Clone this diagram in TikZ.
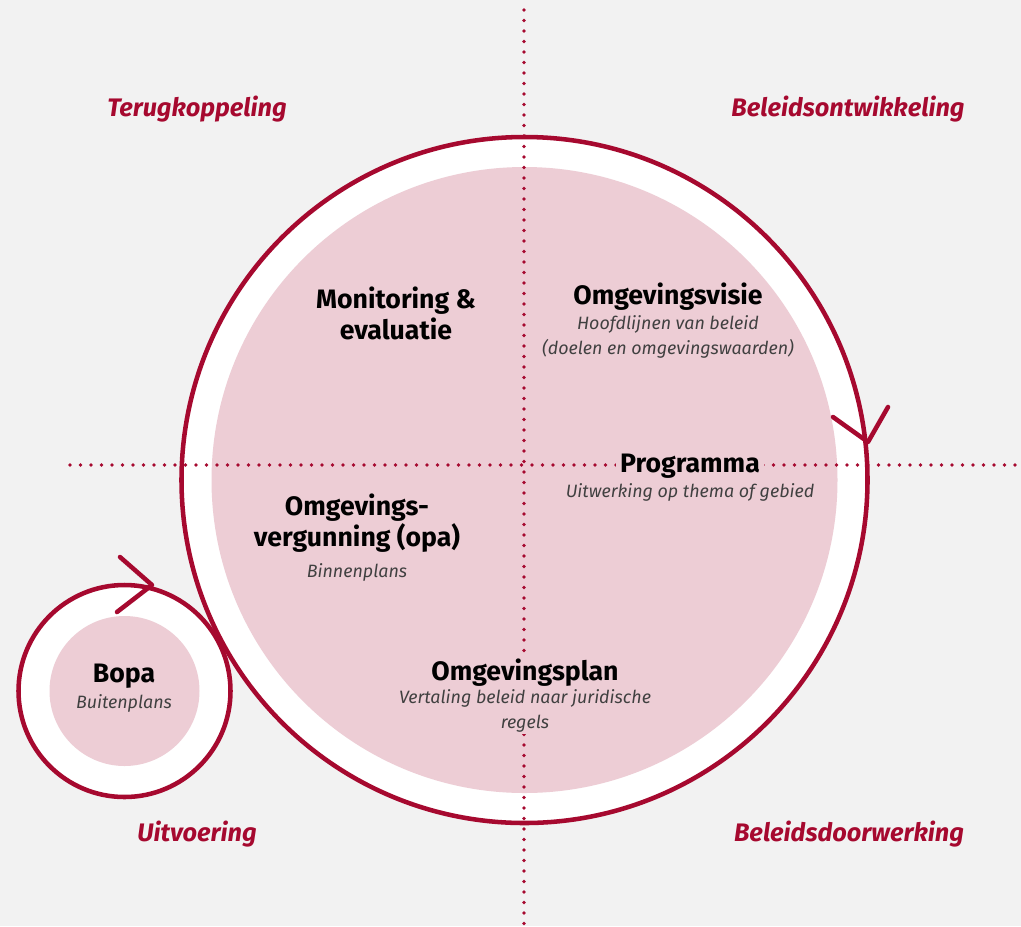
\documentclass[tikz,border=0pt]{standalone}
\usepackage{fontspec}
\setmainfont{Fira Sans}
\usetikzlibrary{positioning}

\definecolor{wine}{HTML}{A6092F}
\definecolor{blush}{HTML}{EDCDD5}
\definecolor{paper}{HTML}{F2F2F2}

\tikzset{
  ring/.style={draw=wine, line width=3.4pt, line cap=round, line join=round},
  dots/.style={draw=wine, line width=2.8pt, line cap=round, dash pattern=on 0pt off 7.875pt},
  phase/.style={text=wine, font=\bfseries\itshape\fontsize{19}{22}\selectfont},
  title/.style={font=\bfseries\fontsize{20}{23.25}\selectfont, align=center, inner sep=3pt},
  sub/.style={font=\itshape\fontsize{13.4}{18.75}\selectfont, text=black!75, align=center, inner sep=1pt},
  cover/.style={fill=blush}
}

\begin{document}
\begin{tikzpicture}[x=0.75pt,y=-0.75pt]

      \fill[paper] (0,0) rectangle (1021,926);
      \useasboundingbox (0,0) rectangle (1021,926);

      % the two cycles
      \coordinate (big)   at (524.5,480);
      \coordinate (small) at (124.5,691);
      \fill[white] (small) circle (79.5pt);
      \fill[blush] (small) circle (56.25pt);
      \fill[white] (big) circle (257.25pt);
      \fill[blush] (big) circle (234.75pt);
      \draw[ring] (small) circle (79.5pt);
      \draw[ring] (big) circle (257.25pt);
      \draw[ring] (833,417) -- (868,442) -- (888,407);
      \draw[ring] (120,557) -- (152,585) -- (117,612);

      % quadrants
      \coordinate (top)    at (524,10);
      \coordinate (bottom) at (524,926);
      \coordinate (left)   at (70,465);
      \coordinate (right)  at (1021,465);
      \draw[dots] (top) -- (bottom);
      \draw[dots] (left) -- (right);

      \begin{scope}[every node/.style={phase}]
        \node (fb)   at (197,109) {Terugkoppeling};
        \node (dev)  at (848,109) {Beleidsontwikkeling};
        \node (exec) at (197,834) {Uitvoering};
        \node (flow) at (849,834) {Beleidsdoorwerking};
      \end{scope}

      \node[title] (mon)    at (396,313) {Monitoring \&\\evaluatie};
      \node[title] (visie)  at (668,297) {Omgevingsvisie};
      \node[sub]   (visie2) at (668,337) {Hoofdlijnen van beleid\\(doelen en omgevingswaarden)};
      \node[title, cover] (prog)  at (690,466) {Programma};
      \node[sub]   (prog2)  at (690,492) {Uitwerking op thema of gebied};
      \node[title] (opa)    at (357,523) {Omgevings-\\vergunning (opa)};
      \node[sub]   (opa2)   at (357,572) {Binnenplans};
      \node[title, cover] (plan)  at (525,673) {Omgevingsplan};
      \node[sub, cover]   (plan2) at (525,711) {Vertaling beleid naar juridische\\regels};
      \node[title] (bopa)   at (124,676) {Bopa};
      \node[sub]   (bopa2)  at (124,703) {Buitenplans};

    \end{tikzpicture}
\end{document}
